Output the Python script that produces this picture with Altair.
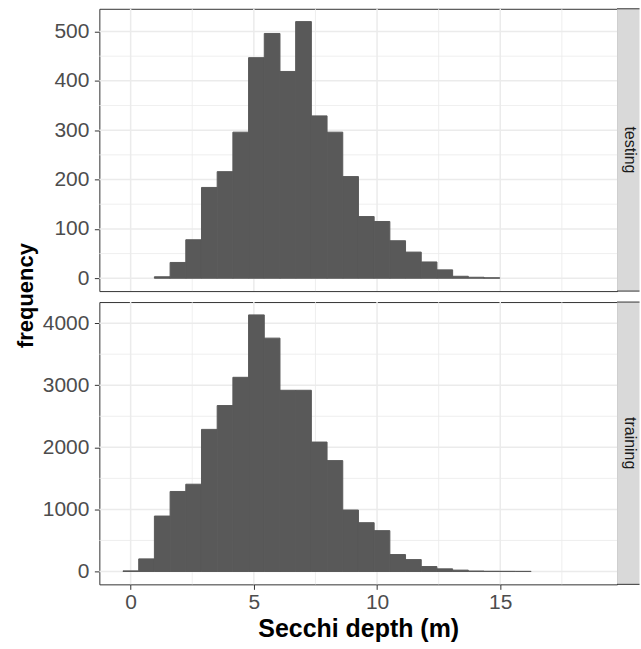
import altair as alt
import pandas as pd

# ---- data ----
BIN_START = -0.31
BIN_WIDTH = 0.637
testing_counts = [0, 0, 3, 32, 78, 184, 216, 296, 447, 496, 419, 520, 329, 296, 206,
                  125, 115, 76, 53, 33, 17, 4, 2, 1, 0, 0, 0, 0, 0, 0]
training_counts = [10, 203, 893, 1289, 1406, 2289, 2673, 3128, 4133, 3759, 2919, 2919,
                   2085, 1786, 990, 786, 658, 273, 192, 80, 43, 22, 8, 4, 3, 2, 0, 0, 0, 0]
panel_names = ["testing", "training"]

x_major = [0, 5, 10, 15]
x_minor = [2.5, 7.5, 12.5, 17.5]
X_DOMAIN = [-1.27, 19.74]

test_major = [0, 100, 200, 300, 400, 500]
test_minor = [50, 150, 250, 350, 450]
TEST_DOMAIN = [-26, 546]
train_major = [0, 1000, 2000, 3000, 4000]
train_minor = [500, 1500, 2500, 3500]
TRAIN_DOMAIN = [-207, 4340]

FONT = "Liberation Sans"
PW, PH = 519, 283
SW = 22.5
GRID = "#EBEBEB"
DARK = "#333333"
BAR = "#595959"
TICK_FS = 21


def panel(counts, ydom, ymaj, ymin, bottom, ytitle):
    n = len(counts)
    df = pd.DataFrame({
        "x0": [BIN_START + i * BIN_WIDTH for i in range(n)],
        "x1": [BIN_START + (i + 1) * BIN_WIDTH for i in range(n)],
        "count": counts,
    })
    df = df[df["count"] > 0]
    xs = alt.Scale(domain=X_DOMAIN, nice=False, zero=False)
    ys = alt.Scale(domain=ydom, nice=False, zero=False)

    if bottom:
        xaxis = alt.Axis(values=x_major, grid=False, domain=False, ticks=True, tickSize=5,
                         tickColor=DARK, labelColor="#4D4D4D", labelFontSize=TICK_FS,
                         labelFont=FONT, labelPadding=2.5, title="Secchi depth (m)",
                         titleFontSize=25, titleFont=FONT, titleFontWeight="bold",
                         titleColor="black", titlePadding=4)
    else:
        xaxis = alt.Axis(values=x_major, grid=False, domain=False, ticks=False,
                         labels=False, title=None)

    yaxis_kw = dict(values=ymaj, format="d", grid=False, domain=False, ticks=True, tickSize=5,
                    tickColor=DARK, labelColor="#4D4D4D", labelFontSize=TICK_FS, labelFont=FONT,
                    labelPadding=5.5)
    if ytitle:
        yaxis = alt.Axis(title="frequency", titleFontSize=22, titleFont=FONT,
                         titleFontWeight="bold", titleColor="black", titleX=-73.9,
                         titleY=287, titleBaseline="middle", titleAlign="center",
                         **yaxis_kw)
    else:
        yaxis = alt.Axis(title=None, **yaxis_kw)

    vmin = alt.Chart(pd.DataFrame({"v": x_minor})).mark_rule(color=GRID, strokeWidth=0.8).encode(
        x=alt.X("v:Q", scale=xs, axis=xaxis))
    vmaj = alt.Chart(pd.DataFrame({"v": x_major})).mark_rule(color=GRID, strokeWidth=1.5).encode(
        x=alt.X("v:Q", scale=xs, axis=xaxis))
    hmin = alt.Chart(pd.DataFrame({"h": ymin})).mark_rule(color=GRID, strokeWidth=0.8).encode(
        y=alt.Y("h:Q", scale=ys, axis=yaxis))
    hmaj = alt.Chart(pd.DataFrame({"h": ymaj})).mark_rule(color=GRID, strokeWidth=1.5).encode(
        y=alt.Y("h:Q", scale=ys, axis=yaxis))

    bars = alt.Chart(df).mark_rect(color=BAR, stroke=BAR, strokeWidth=1).encode(
        x=alt.X("x0:Q", scale=xs, axis=xaxis),
        x2="x1:Q",
        y=alt.Y("count:Q", scale=ys, axis=yaxis),
        y2=alt.datum(0),
    )
    return alt.layer(vmin, hmin, vmaj, hmaj, bars).properties(
        width=PW, height=PH, view=alt.ViewBackground(stroke=DARK, strokeWidth=1))


def strip(label):
    base = alt.Chart(pd.DataFrame({"label": [label]}))
    bg = base.mark_rect(fill="#D9D9D9").encode(
        x=alt.value(0), x2=alt.value(SW), y=alt.value(0), y2=alt.value(PH))
    top = base.mark_rule(color=DARK, strokeWidth=1).encode(
        x=alt.value(0), x2=alt.value(SW), y=alt.value(0))
    bot = base.mark_rule(color=DARK, strokeWidth=1).encode(
        x=alt.value(0), x2=alt.value(SW), y=alt.value(PH))
    txt = base.mark_text(angle=90, fontSize=16, font=FONT, color="#1A1A1A",
                         align="center", baseline="middle").encode(
        x=alt.value(13.2), y=alt.value(PH / 2), text="label:N")
    return alt.layer(bg, top, bot, txt).properties(
        width=SW, height=PH, view=alt.ViewBackground(stroke="transparent"))


p1 = panel(testing_counts, TEST_DOMAIN, test_major, test_minor, False, True)
p2 = panel(training_counts, TRAIN_DOMAIN, train_major, train_minor, True, False)

chart = alt.concat(p1, strip(panel_names[0]), p2, strip(panel_names[1]), columns=2,
                   spacing={"row": 11, "column": 0}, bounds="flush").properties(
    padding={"left": 13.6, "top": 6, "right": 0, "bottom": 5}
).configure(background="white")

chart.save("out.html", embed_options={"renderer": "svg", "actions": False})
